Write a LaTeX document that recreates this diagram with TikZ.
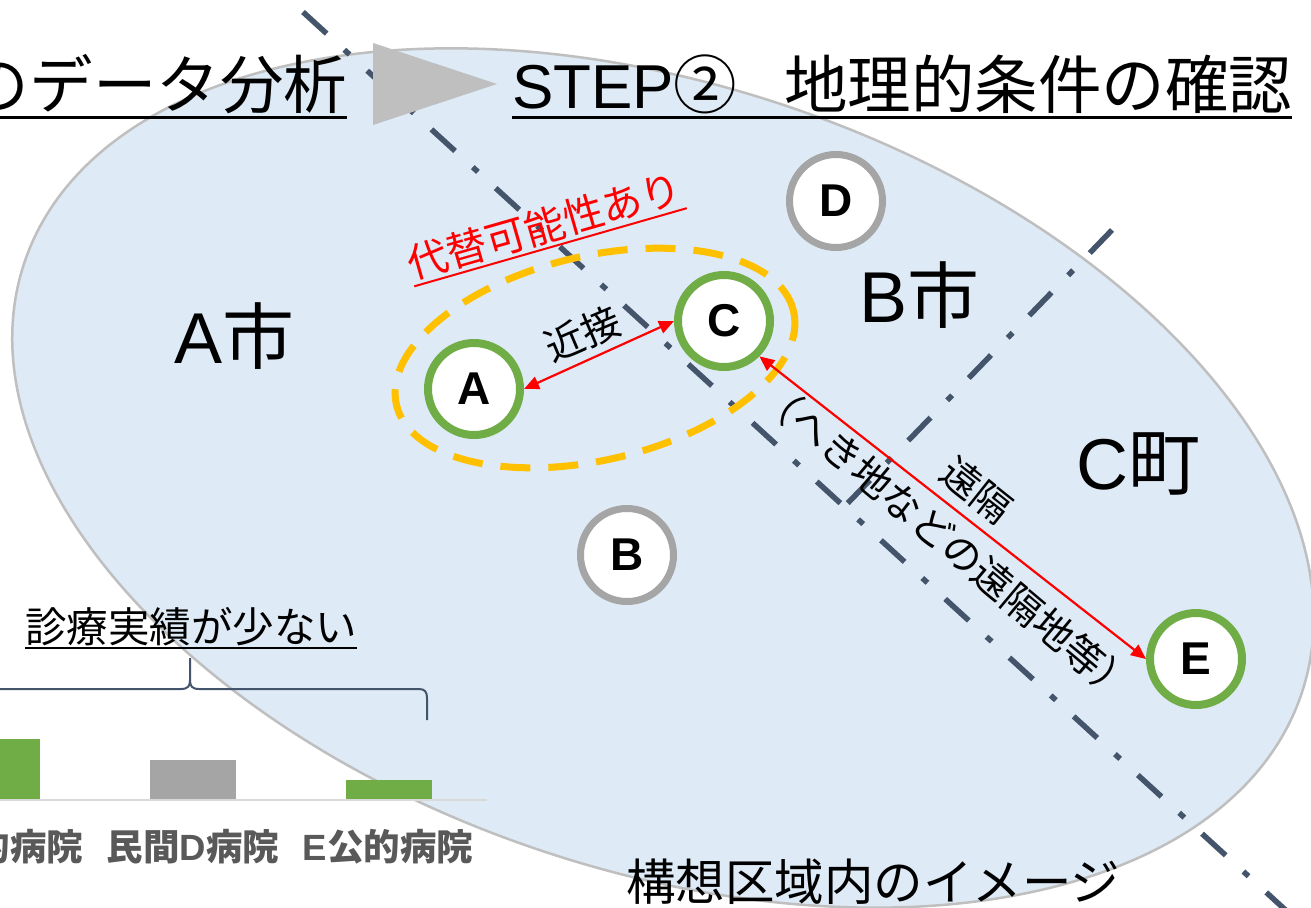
\documentclass[tikz,border=0pt]{standalone}
\usepackage{fontspec}
\setmainfont{Liberation Sans}
\newfontfamily\jp{Noto Sans CJK JP}
\usetikzlibrary{arrows.meta}
\definecolor{ellfill}{HTML}{DEEAF6}
\definecolor{ellline}{HTML}{BFBFBF}
\definecolor{divcol}{HTML}{44546A}
\definecolor{orangec}{HTML}{FFC000}
\definecolor{pubgreen}{HTML}{70AD47}
\definecolor{privgray}{HTML}{A5A5A5}
\definecolor{trigray}{HTML}{BEBFBE}
\definecolor{labgray}{HTML}{595959}
\definecolor{axisgray}{HTML}{D9D9D9}
\newsavebox\ulbox
\newcommand\myul[3]{\sbox\ulbox{#1}\rlap{\usebox\ulbox}\raisebox{-#3}{\rule{\wd\ulbox}{#2}}}
\tikzset{
  hosp/.style={circle, fill=white, line width=8pt, minimum size=92pt, inner sep=0pt,
    font=\fontsize{46}{50}\selectfont\bfseries},
  pub/.style={hosp, draw=pubgreen},
  priv/.style={hosp, draw=privgray, line width=7pt, minimum size=93pt},
  divline/.style={draw=divcol, line width=5.5pt, dash pattern=on 32pt off 24pt on 7pt off 24pt},
  redarrow/.style={draw=red, line width=2.2pt, arrows={Triangle[length=15pt,width=13pt]-Triangle[length=15pt,width=13pt]}},
  plain/.style={inner sep=0pt, outer sep=0pt},
  barlab/.style={plain, text=labgray, font=\fontsize{36.5}{40}\selectfont\bfseries},
}
\begin{document}
\begin{tikzpicture}[x=1pt, y=-1pt]
\useasboundingbox (0,0) rectangle (1311,907);
\clip (0,0) rectangle (1311,907);
\fill[white] (0,0) rectangle (1311,907);
% region ellipse
\draw[draw=ellline, line width=2.5pt, fill=ellfill, rotate around={-18.7:(663,478)}] (663,478) ellipse [x radius=674, y radius=392];
% boundary lines
\coordinate (l1s) at (303,12);
\coordinate (l1e) at (1303,926);
\coordinate (l2s) at (1112,230);
\coordinate (corner) at (844,507);
\draw[divline] (l1s) -- (l1e);
\draw[divline] (l2s) -- (corner);
% orange dashed ellipse
\draw[draw=orangec, line width=7pt, dash pattern=on 30pt off 18pt, rotate around={13.3:(595,358)}] (595,358) ellipse [x radius=204, y radius=102];
% hospitals
\node[pub] (A) at (474,389) {A};
\node[priv] (B) at (627,555) {B};
\node[pub] (C) at (724,321) {C};
\node[priv] (D) at (836,201) {D};
\node[pub] (E) at (1196,659) {E};
\draw[redarrow] (A.east) -- (C.west);
\draw[redarrow] (C.south east) -- (E.west);
% labels on arrows
\node[plain, rotate=23] (near) at (583,334) {\fontsize{39}{42}\jp 近接};
\node[plain, rotate=-38.5] (far) at (977,490) {\fontsize{39}{42}\jp 遠隔};
\node[plain, rotate=-40] (far2) at (948,541) {\fontsize{39.5}{42}\jp （へき地などの遠隔地等）};
\node[plain, rotate=16, text=red] (alt) at (545,228) {\fontsize{40.5}{44}\jp\myul{代替可能性あり}{2pt}{8pt}};
% municipalities
\node[plain, anchor=base west] (cityA) at (174,363) {\fontsize{72}{76}\selectfont A{\jp 市}};
\node[plain, anchor=base west] (cityB) at (859,322) {\fontsize{72}{76}\selectfont B{\jp 市}};
\node[plain, anchor=base west] (townC) at (1076,489) {\fontsize{72}{76}\selectfont C{\jp 町}};
% bar chart
\fill[pubgreen] (-46,739) rectangle (40,800);
\fill[privgray] (150,760) rectangle (236,800);
\fill[pubgreen] (346,780) rectangle (432,800);
\draw[axisgray, line width=1.5pt] (0,800) -- (487,800);
\node[barlab] (lab1) at (-3,847) {C{\jp\bfseries 公的病院}};
\node[barlab] (lab2) at (193,847) {{\jp\bfseries 民間}D{\jp\bfseries 病院}};
\node[barlab] (lab3) at (388,847) {E{\jp\bfseries 公的病院}};
% brace
\draw[divcol, line width=2pt] (-10,689) -- (181,689) .. controls (188,689) and (190,686) .. (190,680) -- (190,658);
\draw[divcol, line width=2pt] (190,680) .. controls (190,686) and (192,689) .. (199,689) -- (419,689) .. controls (425,689) and (427,692) .. (427,698) -- (427,720);
\node[plain, anchor=base west] (few) at (25,642) {\fontsize{41.5}{45}\jp\myul{診療実績が少ない}{2pt}{7pt}};
% caption
\node[plain, anchor=base west] (cap) at (626,900) {\fontsize{49.5}{52}\jp 構想区域内のイメージ};
% title
\node[plain, anchor=base east] (t1) at (347,108) {\fontsize{63.5}{70}\jp\myul{のデータ分析}{3pt}{10.5pt}};
\node[plain, anchor=base west] (t2) at (512,108) {\myul{\fontsize{62}{70}\selectfont STEP{\fontsize{63.5}{70}\jp ②}\hspace{47pt}{\fontsize{63.5}{70}\jp 地理的条件の確認}}{3pt}{10.5pt}};
\fill[trigray] (373,43) -- (497,84) -- (373,125) -- cycle;
\end{tikzpicture}
\end{document}
